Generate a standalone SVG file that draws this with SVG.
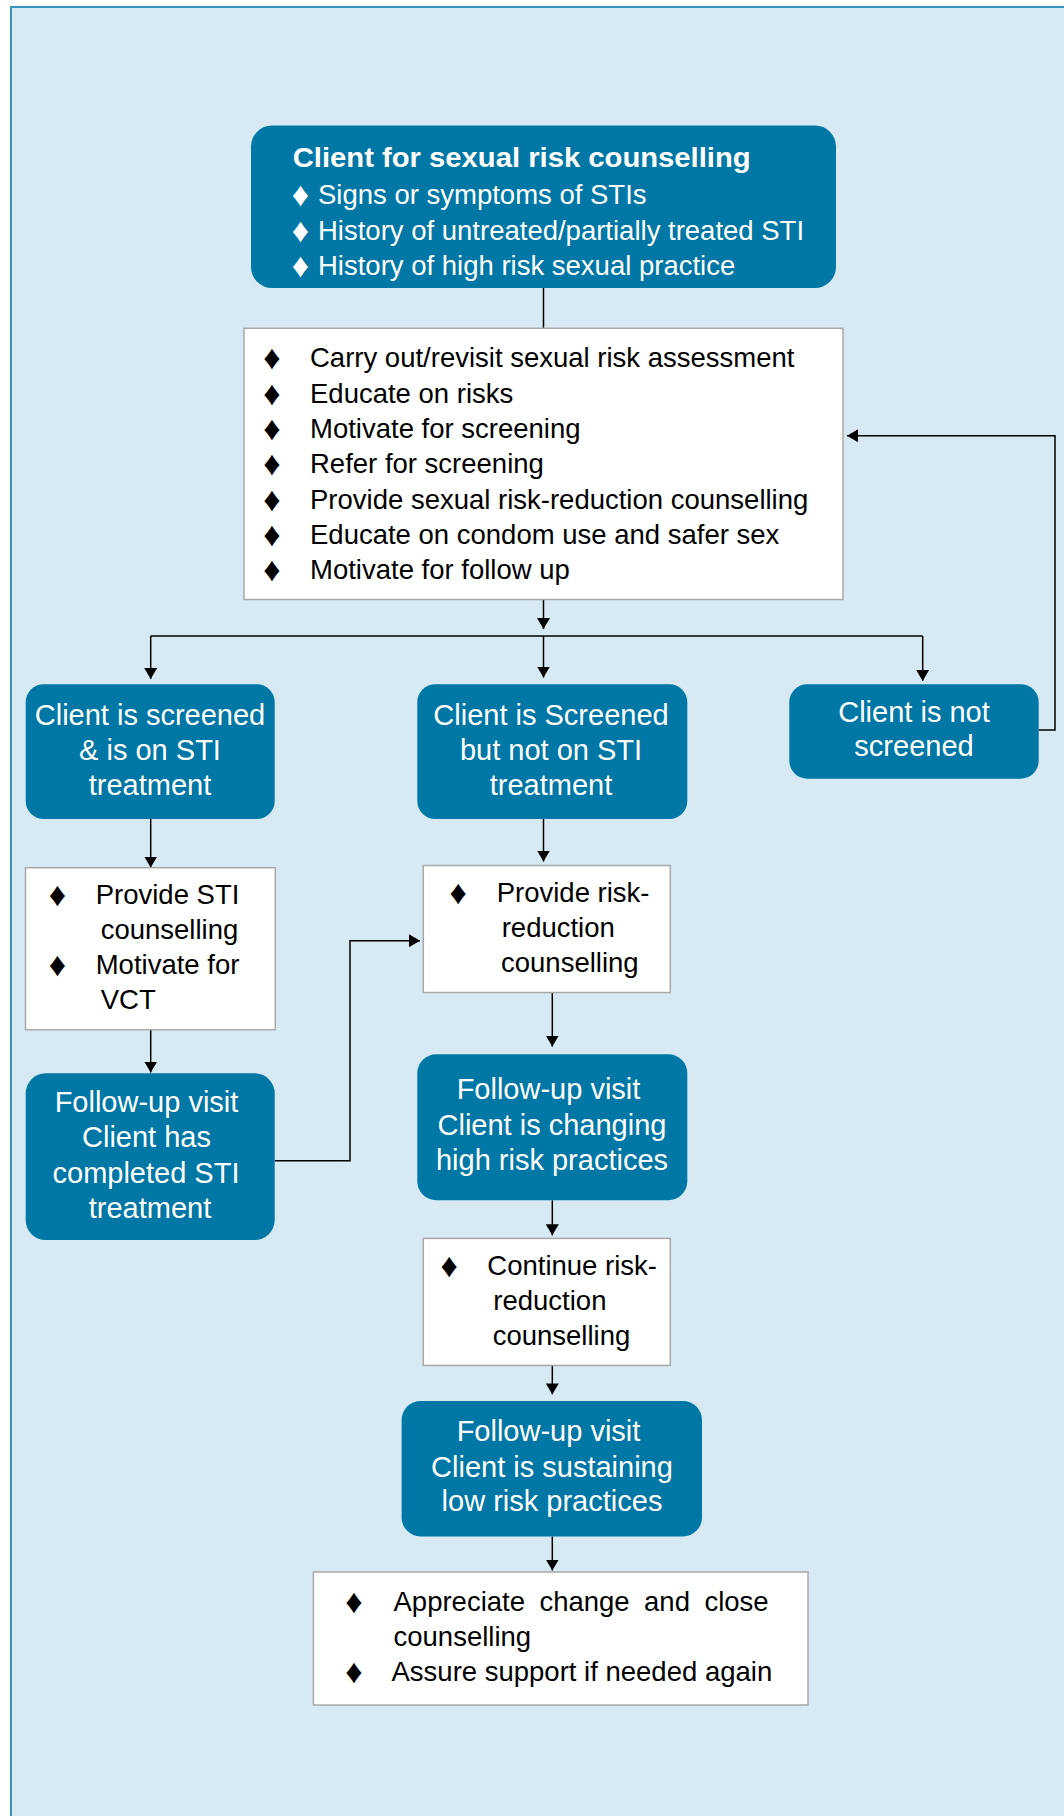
<svg xmlns="http://www.w3.org/2000/svg" width="1064" height="1816" viewBox="0 0 1064 1816">
<defs>
<style>
.frame{fill:#d7e9f3;stroke:#3a92c1;stroke-width:2}
.bn{fill:#0077a4}
.wn{fill:#ffffff;stroke:#a8a8a8;stroke-width:1.5}
.bt{font-family:"Liberation Sans",Arial,"DejaVu Sans",sans-serif;font-size:29px;fill:#ffffff;text-anchor:middle}
.tt{font-family:"Liberation Sans",Arial,"DejaVu Sans",sans-serif;font-size:27.5px;fill:#ffffff}
.tbul{font-family:"Liberation Sans",Arial,"DejaVu Sans",sans-serif;font-size:34px;fill:#ffffff;text-anchor:middle}
.ttb{font-family:"Liberation Sans",Arial,"DejaVu Sans",sans-serif;font-size:28.5px;font-weight:bold;fill:#ffffff}
.wt{font-family:"Liberation Sans",Arial,"DejaVu Sans",sans-serif;font-size:27.5px;fill:#000000}
.bul{font-family:"Liberation Sans",Arial,"DejaVu Sans",sans-serif;font-size:34px;fill:#000000;text-anchor:middle}
.edge{fill:none;stroke:#000000;stroke-width:1.5}
</style>
<marker id="arr" viewBox="0 0 11 13" refX="11" refY="6.5" markerWidth="11" markerHeight="13" markerUnits="userSpaceOnUse" orient="auto">
<path d="M0,0 L11,6.5 L0,13 z" fill="#000000"/>
</marker>
</defs>

<rect class="frame" x="11" y="7" width="1070" height="1830"/>

<g id="connectors">
<line class="edge" x1="543.5" y1="288" x2="543.5" y2="328"/>
<line class="edge" x1="543.5" y1="599.5" x2="543.5" y2="629" marker-end="url(#arr)"/>
<line class="edge" x1="150.7" y1="636" x2="922.7" y2="636"/>
<line class="edge" x1="150.7" y1="636" x2="150.7" y2="679" marker-end="url(#arr)"/>
<line class="edge" x1="543.5" y1="636" x2="543.5" y2="677.5" marker-end="url(#arr)"/>
<line class="edge" x1="922.7" y1="636" x2="922.7" y2="681" marker-end="url(#arr)"/>
<polyline class="edge" points="1038.7,730 1055,730 1055,435.7 847,435.7" marker-end="url(#arr)"/>
<line class="edge" x1="150.7" y1="819" x2="150.7" y2="867.5" marker-end="url(#arr)"/>
<line class="edge" x1="543.5" y1="819" x2="543.5" y2="861.5" marker-end="url(#arr)"/>
<line class="edge" x1="150.7" y1="1030" x2="150.7" y2="1072.5" marker-end="url(#arr)"/>
<polyline class="edge" points="274.7,1160.7 350,1160.7 350,940.7 420,940.7" marker-end="url(#arr)"/>
<line class="edge" x1="552.3" y1="992.5" x2="552.3" y2="1046.6" marker-end="url(#arr)"/>
<line class="edge" x1="552.3" y1="1200.2" x2="552.3" y2="1235.3" marker-end="url(#arr)"/>
<line class="edge" x1="552.3" y1="1365.5" x2="552.3" y2="1394.4" marker-end="url(#arr)"/>
<line class="edge" x1="552.3" y1="1536.4" x2="552.3" y2="1570.5" marker-end="url(#arr)"/>
</g>

<g id="node-client">
<rect class="bn" x="251" y="125.5" width="585" height="162.5" rx="21"/>
<text class="ttb" x="292.7" y="167.3" textLength="458" lengthAdjust="spacingAndGlyphs">Client for sexual risk counselling</text>
<text class="tbul" x="300.5" y="206">♦</text>
<text class="tt" x="318" y="204">Signs or symptoms of STIs</text>
<text class="tbul" x="300.5" y="241.5">♦</text>
<text class="tt" x="318" y="239.5">History of untreated/partially treated STI</text>
<text class="tbul" x="300.5" y="277">♦</text>
<text class="tt" x="318" y="275">History of high risk sexual practice</text>
</g>

<g id="node-assessment">
<rect class="wn" x="244" y="328.3" width="599" height="271.2"/>
<text class="bul" x="272" y="369.3">♦</text>
<text class="wt" x="310" y="367.3">Carry out/revisit sexual risk assessment</text>
<text class="bul" x="272" y="404.6">♦</text>
<text class="wt" x="310" y="402.6">Educate on risks</text>
<text class="bul" x="272" y="439.9">♦</text>
<text class="wt" x="310" y="437.9">Motivate for screening</text>
<text class="bul" x="272" y="475.2">♦</text>
<text class="wt" x="310" y="473.2">Refer for screening</text>
<text class="bul" x="272" y="510.5">♦</text>
<text class="wt" x="310" y="508.5">Provide sexual risk-reduction counselling</text>
<text class="bul" x="272" y="545.8">♦</text>
<text class="wt" x="310" y="543.8">Educate on condom use and safer sex</text>
<text class="bul" x="272" y="581.1">♦</text>
<text class="wt" x="310" y="579.1">Motivate for follow up</text>
</g>

<g id="node-screened-on-treatment">
<rect class="bn" x="25.7" y="684.2" width="249" height="134.8" rx="18"/>
<text class="bt" x="150" y="725.2">Client is screened</text>
<text class="bt" x="150" y="760.2">&amp; is on STI</text>
<text class="bt" x="150" y="795">treatment</text>
</g>

<g id="node-screened-not-treatment">
<rect class="bn" x="417.3" y="684.2" width="270" height="134.8" rx="18"/>
<text class="bt" x="551" y="725.2">Client is Screened</text>
<text class="bt" x="551" y="760.2">but not on STI</text>
<text class="bt" x="551" y="795">treatment</text>
</g>

<g id="node-not-screened">
<rect class="bn" x="789.3" y="684.2" width="249.4" height="94.5" rx="18"/>
<text class="bt" x="914" y="721.7">Client is not</text>
<text class="bt" x="914" y="755.7">screened</text>
</g>

<g id="node-sti-counselling">
<rect class="wn" x="25.5" y="867.7" width="249.8" height="162"/>
<text class="bul" x="57.5" y="906">♦</text>
<text class="wt" x="95.7" y="904">Provide STI</text>
<text class="wt" x="100.7" y="939">counselling</text>
<text class="bul" x="57.5" y="976">♦</text>
<text class="wt" x="95.7" y="974">Motivate for</text>
<text class="wt" x="100.7" y="1009">VCT</text>
</g>

<g id="node-risk-reduction">
<rect class="wn" x="423.3" y="865.5" width="247" height="127"/>
<text class="bul" x="458.3" y="904">♦</text>
<text class="wt" x="496.7" y="902">Provide risk-</text>
<text class="wt" x="501.7" y="937">reduction</text>
<text class="wt" x="501" y="972">counselling</text>
</g>

<g id="node-followup-completed">
<rect class="bn" x="25.7" y="1073.3" width="249" height="166.7" rx="20"/>
<text class="bt" x="146.5" y="1111.7">Follow-up visit</text>
<text class="bt" x="146.5" y="1147.3">Client has</text>
<text class="bt" x="146" y="1182.7">completed STI</text>
<text class="bt" x="150" y="1217.7">treatment</text>
</g>

<g id="node-followup-changing">
<rect class="bn" x="417.3" y="1054.2" width="270" height="146" rx="19"/>
<text class="bt" x="548.5" y="1099">Follow-up visit</text>
<text class="bt" x="552" y="1135">Client is changing</text>
<text class="bt" x="552" y="1170.3">high risk practices</text>
</g>

<g id="node-continue">
<rect class="wn" x="423.3" y="1238.4" width="247" height="127"/>
<text class="bul" x="449.3" y="1277">♦</text>
<text class="wt" x="487.3" y="1275">Continue risk-</text>
<text class="wt" x="493.3" y="1310">reduction</text>
<text class="wt" x="492.7" y="1345">counselling</text>
</g>

<g id="node-followup-sustaining">
<rect class="bn" x="401.6" y="1401" width="300.4" height="135.4" rx="19"/>
<text class="bt" x="548.5" y="1441">Follow-up visit</text>
<text class="bt" x="552" y="1476.5">Client is sustaining</text>
<text class="bt" x="552" y="1511">low risk practices</text>
</g>

<g id="node-close">
<rect class="wn" x="313.4" y="1572" width="494.6" height="133"/>
<text class="bul" x="354" y="1613">♦</text>
<text class="wt" x="393.5" y="1611" word-spacing="6.8">Appreciate change and close</text>
<text class="wt" x="393.5" y="1646">counselling</text>
<text class="bul" x="354" y="1683">♦</text>
<text class="wt" x="391.5" y="1681">Assure support if needed again</text>
</g>
</svg>
